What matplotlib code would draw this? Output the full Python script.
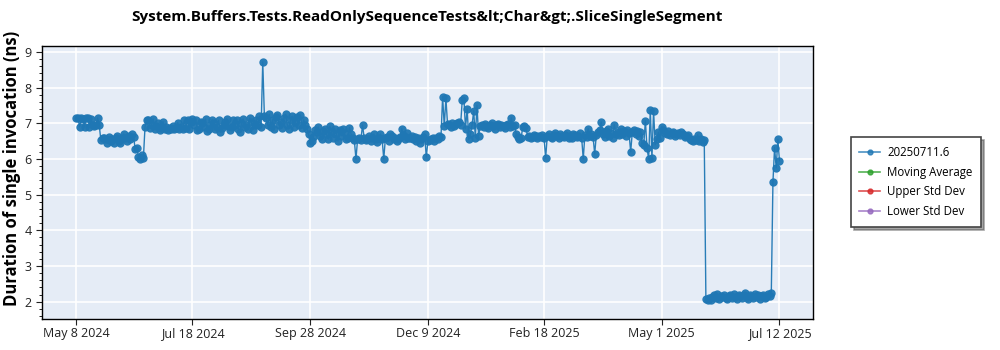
import numpy as np
import pandas as pd
import matplotlib
matplotlib.use('Agg')
import matplotlib.pyplot as plt
from matplotlib.lines import Line2D
from matplotlib.ticker import MultipleLocator

plt.rcParams['font.family'] = ['Open Sans', 'DejaVu Sans']

TITLE = 'System.Buffers.Tests.ReadOnlySequenceTests&lt;Char&gt;.SliceSingleSegment'
Y_LABEL = 'Duration of single invocation (ns)'
SERIES_NAME = '20250711.6'
START_DATE = '2024-05-08'

# one run per day, in ns
may_2024 = [7.15, 7.15, 6.90, 7.15, 7.12, 6.90, 7.15, 7.15, 6.90, 7.12,
            6.95, 6.92, 6.95, 7.15, 6.95]
late_may_jun_2024 = [6.52, 6.58, 6.60, 6.55, 6.45, 6.62, 6.50, 6.55, 6.45, 6.60,
                     6.65, 6.50, 6.45, 6.58, 6.70, 6.60, 6.50, 6.65, 6.55, 6.70,
                     6.62, 6.28, 6.32, 6.05, 6.00, 6.12, 6.02]
jun_jul_2024 = [6.90, 7.10, 7.08, 6.88, 6.95, 7.12, 6.85, 6.92, 7.00, 6.80,
                6.88, 7.05, 6.85, 6.90, 6.82, 6.88, 6.85, 6.92, 6.85, 6.88,
                7.02, 6.85, 6.90, 6.85, 7.08, 6.88, 7.10, 6.85, 7.05, 7.12]
jul_aug_2024 = [6.95, 7.10, 6.80, 6.85, 7.05, 7.00, 6.90, 7.12, 6.78, 6.85,
                6.95, 7.10, 7.02, 6.85, 6.90, 7.08, 6.75, 6.88, 6.95, 7.05,
                7.12, 6.92, 6.80, 6.90, 7.08, 6.95, 7.10, 6.85, 6.75, 7.00,
                7.12, 6.90, 6.95, 6.85, 7.15, 7.05, 6.82, 6.95, 7.10,
                6.95, 7.20, 6.90, 8.72]
sep_2024 = [7.20, 7.15, 6.95, 7.25, 6.90, 7.10, 6.85, 7.18, 7.22, 6.95,
            7.05, 6.88, 7.15, 7.25, 6.95, 6.85, 7.10, 7.20, 6.90, 7.05,
            7.18, 6.95, 7.22, 6.88, 7.10, 6.95]
oct_2024 = [6.85, 6.70, 6.45, 6.50, 6.62, 6.80, 6.75, 6.90, 6.65, 6.55,
            6.78, 6.85, 6.70, 6.55, 6.92, 6.75, 6.60, 6.85, 6.70, 6.50,
            6.80, 6.65, 6.85, 6.72, 6.55, 6.60, 6.88, 6.70, 6.58, 6.52,
            6.00, 6.55, 6.60, 6.52, 6.95]
nov_dec_2024 = [6.60, 6.52, 6.55, 6.65, 6.50, 6.58, 6.70, 6.55, 6.48, 6.60,
                6.70, 6.55, 6.00, 6.58, 6.62, 6.50, 6.70, 6.65, 6.55, 6.60,
                6.50, 6.55, 6.62, 6.85, 6.68, 6.55, 6.72, 6.60, 6.58, 6.65,
                6.55, 6.62, 6.50, 6.58, 6.45, 6.55, 6.62, 6.70, 6.05, 6.50,
                6.52, 6.55, 6.60, 6.50, 6.58, 6.55, 6.65, 6.62]
dec_jan_2025 = [7.75, 6.92, 7.70, 6.98, 6.95, 6.90, 7.00, 6.92, 6.98, 7.00,
                7.05, 6.95, 7.65, 7.70, 6.85, 7.40, 6.55, 6.70, 6.95, 7.35,
                6.60, 7.50, 6.65, 6.92,
                6.95, 6.90, 6.98, 6.92, 6.88, 6.95, 7.00, 6.92, 6.85, 6.95,
                6.98, 6.90, 6.95, 6.92, 6.88, 6.95, 6.98, 6.90, 7.15, 6.92,
                6.95, 6.70, 6.62]
feb_2025 = [6.55, 6.58, 6.90, 6.92, 6.88, 6.62, 6.65, 6.60, 6.62, 6.68,
            6.65, 6.60]
feb_apr_2025 = [6.65, 6.62, 6.68, 6.60, 6.03, 6.65, 6.70, 6.62, 6.58, 6.68,
                6.72, 6.65, 6.60, 6.70, 6.65, 6.62, 6.68, 6.72, 6.60, 6.65,
                6.58, 6.70, 6.68, 6.62, 6.65, 6.72, 6.60, 6.00, 6.68, 6.62,
                6.85, 6.65, 6.70, 6.62, 6.14, 6.68, 6.75, 6.80, 7.04, 6.70,
                6.62, 6.78, 6.85, 6.65, 6.72, 6.60, 6.96, 6.70]
apr_2025 = [6.75, 6.68, 6.85, 6.70, 6.78, 6.65, 6.80, 6.72, 6.20, 6.75,
            6.82, 6.70, 6.78, 6.65, 6.75, 6.45, 6.40, 7.07, 6.30, 6.00,
            7.38, 6.02, 7.35, 6.40, 6.55]
may_2025 = [6.75, 6.60, 6.90, 6.80, 6.72, 6.70, 6.78, 6.68, 6.72, 6.75,
            6.65, 6.70, 6.72, 6.68, 6.75, 6.70, 6.62, 6.65, 6.68, 6.55,
            6.52, 6.50, 6.55, 6.52, 6.68, 6.50, 6.55, 6.48, 6.52]
jun_2025 = [2.08, 2.05, 2.10, 2.06, 2.12, 2.18, 2.10, 2.22, 2.08, 2.15,
            2.12, 2.20, 2.10, 2.08, 2.15, 2.18, 2.10, 2.22, 2.12, 2.08,
            2.20, 2.15, 2.10, 2.18, 2.25, 2.12, 2.08, 2.20, 2.15, 2.10,
            2.22, 2.12, 2.18, 2.08, 2.15, 2.20, 2.10, 2.12, 2.22, 2.15,
            2.25]
jul_2025 = [5.35, 6.32, 5.75, 6.55, 5.95]

TICK_DATES = ['2024-05-08', '2024-07-18', '2024-09-28', '2024-12-09',
              '2025-02-18', '2025-05-01', '2025-07-12']
TICK_LABELS = ['May 8 2024', 'Jul 18 2024', 'Sep 28 2024', 'Dec 9 2024',
               'Feb 18 2025', 'May 1 2025', 'Jul 12 2025']

LEGEND_NAMES = [SERIES_NAME, 'Moving Average', 'Upper Std Dev', 'Lower Std Dev']
LEGEND_COLORS = ['#1f77b4', '#2ca02c', '#d62728', '#9467bd']

durations = np.array(may_2024 + late_may_jun_2024 + jun_jul_2024 + jul_aug_2024
                     + sep_2024 + oct_2024 + nov_dec_2024 + dec_jan_2025
                     + feb_2025 + feb_apr_2025 + apr_2025 + may_2025
                     + jun_2025 + jul_2025)
dates = pd.date_range(START_DATE, periods=len(durations), freq='D')

fig = plt.figure(figsize=(10, 3.5), dpi=100)
ax = fig.add_axes([0.042, 0.089, 0.771, 0.78])
ax.set_facecolor('#E5ECF6')

ax.plot(dates, durations, '-o', color='#1f77b4', linewidth=1.0,
        markersize=6, markeredgewidth=0, alpha=0.95, zorder=3)

ax.set_xlim(pd.Timestamp('2024-04-17'), pd.Timestamp('2025-08-01 12:00'))
ax.set_ylim(1.52, 9.17)

ax.set_xticks(pd.to_datetime(TICK_DATES))
ax.set_xticklabels(TICK_LABELS)
ax.yaxis.set_major_locator(MultipleLocator(1))
ax.yaxis.set_minor_locator(MultipleLocator(0.2))
ax.tick_params(axis='both', labelsize=9, colors='#222222', length=4)
ax.tick_params(axis='y', which='minor', length=2)
ax.tick_params(axis='x', pad=2)

ax.grid(True, color='white', linewidth=1.2, zorder=0)
ax.set_axisbelow(True)
for side in ax.spines.values():
    side.set_color('black')
    side.set_linewidth(1.0)

ax.set_ylabel(Y_LABEL, fontsize=12, fontweight='bold')
ax.yaxis.set_label_coords(-0.027, 0.55)
fig.suptitle(TITLE, fontsize=11, fontweight='bold', x=0.427, y=0.97)

handles = [Line2D([], [], color=c, marker='o', markersize=3.5, linewidth=1.2,
                  alpha=0.8)
           for c in LEGEND_COLORS]
leg = fig.legend(handles, LEGEND_NAMES, loc='center left',
                 bbox_to_anchor=(0.845, 0.48), fontsize=8.3, frameon=True,
                 fancybox=False, shadow=True, handlelength=1.8,
                 handletextpad=0.6, borderpad=0.75, labelspacing=0.6)
leg.get_frame().set_edgecolor('#444444')
leg.get_frame().set_linewidth(1.2)

fig.savefig('out.png', dpi=100)
